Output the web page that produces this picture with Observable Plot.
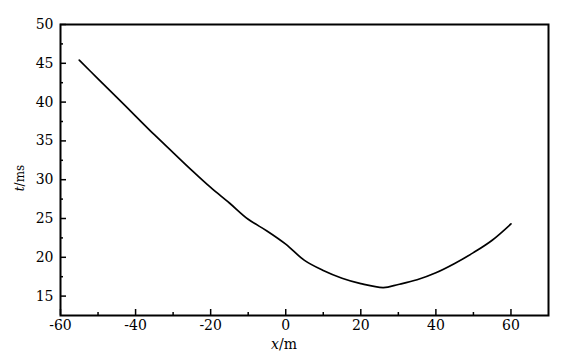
<!DOCTYPE html>
<html>
<head>
<meta charset="utf-8">
<script src="https://cdn.jsdelivr.net/npm/d3@7"></script>
<script src="https://cdn.jsdelivr.net/npm/@observablehq/plot@0.6"></script>
<style>
  html, body { margin: 0; padding: 0; background: #fff; }
  #chart svg { display: block; }
</style>
</head>
<body>
<div id="chart"></div>
<script>
const xs = [-55, -50, -45, -40, -35, -30, -25, -20, -15, -10, -5, 0, 5, 10, 15, 20, 26, 30, 35, 40, 45, 50, 55, 60];
const ts = [45.4, 43.0, 40.6, 38.2, 35.8, 33.5, 31.2, 29.0, 27.0, 24.9, 23.4, 21.7, 19.6, 18.3, 17.3, 16.6, 16.1, 16.5, 17.1, 18.0, 19.2, 20.6, 22.2, 24.3];
const xMajor = [-60, -40, -20, 0, 20, 40, 60];
const xMinor = [-50, -30, -10, 10, 30, 50];
const yMajor = [15, 20, 25, 30, 35, 40, 45, 50];
const yMinor = [17.5, 22.5, 27.5, 32.5, 37.5, 42.5, 47.5];

const data = xs.map((x, i) => ({x, t: ts[i]}));
const font = "DejaVu Serif";
const fmt = d => String(d);

const plot = Plot.plot({
  width: 576,
  height: 359,
  marginLeft: 60,
  marginRight: 28,
  marginTop: 24,
  marginBottom: 44,
  style: {fontFamily: font, fontSize: "14px", color: "#000", background: "#fff"},
  x: {domain: [-60, 70]},
  y: {domain: [12.5, 50]},
  marks: [
    Plot.axisX({ticks: xMajor, tickSize: 0, tickPadding: 5, tickFormat: fmt, label: null, fontSize: 14}),
    Plot.axisX({ticks: xMajor, tickSize: -6, text: null, label: null, strokeWidth: 1.5}),
    Plot.axisX({ticks: xMinor, tickSize: -3, text: null, label: null, strokeWidth: 1.5}),
    Plot.axisY({ticks: yMajor, tickSize: 0, tickPadding: 7, tickFormat: fmt, label: null, fontSize: 14}),
    Plot.axisY({ticks: yMajor, tickSize: -6, text: null, label: null, strokeWidth: 1.5}),
    Plot.axisY({ticks: yMinor, tickSize: -3, text: null, label: null, strokeWidth: 1.5}),
    Plot.line(data, {x: "x", y: "t", stroke: "#000", strokeWidth: 1.7, curve: "catmull-rom"}),
    Plot.frame({stroke: "#000", strokeWidth: 2})
  ]
});

const svg = d3.select(plot);
const xl = svg.append("text")
  .attr("x", 284).attr("y", 349)
  .attr("text-anchor", "middle")
  .attr("font-family", font).attr("font-size", 14).attr("fill", "#000");
xl.append("tspan").attr("font-style", "italic").text("x");
xl.append("tspan").text("/m");

const yl = svg.append("text")
  .attr("transform", "translate(24,178) rotate(-90)")
  .attr("text-anchor", "middle")
  .attr("font-family", font).attr("font-size", 12).attr("fill", "#000");
yl.append("tspan").attr("font-style", "italic").text("t");
yl.append("tspan").text("/ms");

document.getElementById("chart").appendChild(plot);
</script>
</body>
</html>
